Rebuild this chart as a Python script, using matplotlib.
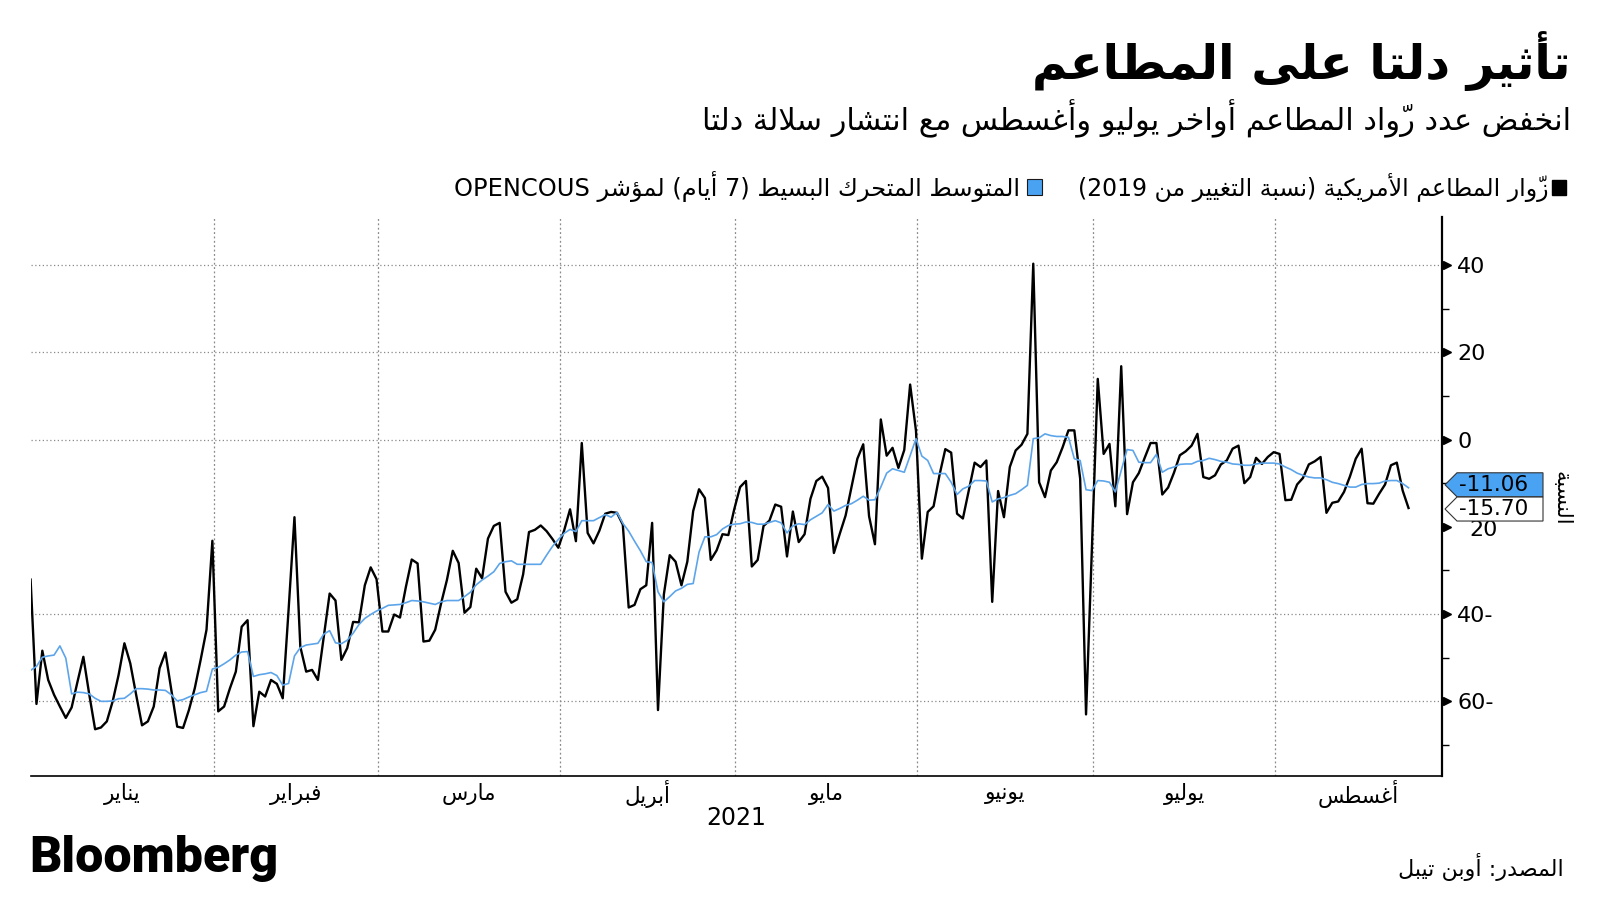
import matplotlib
matplotlib.use("Agg")
import matplotlib.pyplot as plt
import matplotlib.transforms as mtransforms
from matplotlib.patches import Polygon, Rectangle
import pandas as pd

# ---- texts ----
TITLE = "تأثير دلتا على المطاعم"
SUBTITLE = "انخفض عدد روّاد المطاعم أواخر يوليو وأغسطس مع انتشار سلالة دلتا"
LEGEND_DAILY = "زوّار المطاعم الأمريكية (نسبة التغيير من 2019)"
LEGEND_MA = "المتوسط المتحرك البسيط (7 أيام) لمؤشر OPENCOUS"
Y_LABEL = "النسبة"
SOURCE = "المصدر: أوبن تيبل"
YEAR = "2021"
MONTHS = ["يناير", "فبراير", "مارس", "أبريل", "مايو", "يونيو", "يوليو", "أغسطس"]
MONTH_STARTS = ["2021-01-01", "2021-02-01", "2021-03-01", "2021-04-01", "2021-05-01",
                "2021-06-01", "2021-07-01", "2021-08-01", "2021-09-01"]

# ---- data: daily from 2020-12-31, % change vs 2019 ----
START = "2020-12-31"
daily = [-32.1,
         -60.6, -48.4, -55.1, -58.5, -61.2, -63.8, -61.4, -55.5, -49.8, -58.4,
         -66.4, -66.0, -64.6, -60.0, -54.0, -46.7, -51.3, -58.5, -65.5, -64.6,
         -61.2, -52.4, -48.8, -57.4, -65.8, -66.1, -62.0, -57.0, -50.5, -43.6,
         -23.2, -62.3, -61.2, -57.0, -53.2, -42.9, -41.4, -65.7, -57.8, -58.9,
         -55.1, -56.0, -59.3, -39.0, -17.8, -47.5, -53.2, -52.8, -55.1, -45.2,
         -35.3, -36.9, -50.5, -47.8, -41.8, -41.9, -33.4, -29.3, -32.0, -44.0,
         -44.0, -40.1, -40.8, -33.8, -27.5, -28.4, -46.3, -46.1, -43.6, -37.6,
         -32.2, -25.5, -28.3, -39.7, -38.4, -29.6, -31.8, -22.7, -19.8, -19.1,
         -34.9, -37.4, -36.6, -30.9, -21.2, -20.7, -19.7, -21.0, -22.8, -24.8,
         -20.8, -16.0, -23.3, -0.8, -21.4, -23.8, -20.9, -17.0, -16.6, -16.8,
         -19.5, -38.5, -37.9, -34.3, -33.4, -19.1, -62.0, -35.5, -26.5, -28.0,
         -33.4, -28.0, -16.4, -11.4, -13.4, -27.6, -25.4, -21.7, -21.9, -16.0,
         -10.9, -9.5, -29.1, -27.6, -19.8, -18.6, -14.9, -15.4, -26.8, -16.5,
         -23.5, -21.7, -13.6, -9.5, -8.5, -11.1, -26.0, -21.6, -17.4, -10.9,
         -4.4, -1.1, -17.6, -24.0, 4.6, -3.7, -1.9, -6.5, -2.4, 12.6,
         2.0, -27.3, -16.6, -15.3, -8.2, -2.2, -3.0, -17.0, -18.1, -11.7,
         -5.3, -6.3, -4.8, -37.2, -11.8, -17.8, -6.3, -2.5, -1.2, 1.3,
         40.3, -9.8, -13.2, -7.1, -5.2, -1.8, 2.1, 2.1, -9.0, -63.0,
         -25.0, 13.9, -3.3, -1.0, -15.3, 16.8, -17.1, -9.8, -7.7, -4.2,
         -0.8, -0.8, -12.6, -11.0, -7.6, -3.6, -2.7, -1.4, 1.3, -8.6,
         -9.0, -8.2, -5.7, -4.8, -2.1, -1.4, -10.0, -8.6, -4.2, -5.6,
         -4.0, -2.9, -3.3, -13.9, -13.8, -10.3, -8.8, -5.7, -5.0, -4.0,
         -16.8, -14.5, -14.2, -12.0, -8.5, -4.4, -2.1, -14.6, -14.7, -12.4,
         -10.3, -5.9, -5.3, -11.7, -15.70]
ma7 = [-52.9,
       -52.0, -49.9, -49.6, -49.4, -47.3, -50.1, -58.3, -57.9, -58.0, -58.3,
       -59.3, -60.0, -60.0, -59.9, -59.4, -59.3, -58.3, -57.1, -57.1, -57.2,
       -57.4, -57.4, -57.5, -58.5, -59.9, -59.6, -59.0, -58.5, -58.0, -57.7,
       -52.6, -52.2, -51.4, -50.5, -49.4, -48.7, -48.6, -54.3, -53.9, -53.7,
       -53.4, -54.1, -56.3, -55.9, -49.6, -47.7, -47.1, -46.9, -46.7, -44.6,
       -43.8, -46.6, -46.8, -46.0, -44.4, -42.4, -41.0, -40.1, -39.3, -38.7,
       -38.0, -37.9, -37.8, -37.4, -36.9, -37.0, -37.2, -37.5, -37.8, -37.2,
       -36.9, -36.9, -36.9, -36.0, -35.0, -33.3, -32.2, -31.3, -30.3, -28.4,
       -28.0, -27.8, -28.6, -28.6, -28.6, -28.6, -28.6, -26.5, -24.5, -22.9,
       -21.5, -20.6, -21.1, -18.6, -18.6, -18.6, -17.9, -17.2, -17.8, -16.7,
       -19.2, -21.0, -23.3, -25.5, -28.0, -28.2, -34.9, -37.2, -36.0, -34.7,
       -34.1, -33.2, -33.0, -25.8, -22.3, -22.3, -21.8, -20.5, -19.7, -19.4,
       -19.3, -18.9, -19.0, -19.4, -19.4, -19.0, -18.6, -19.1, -21.4, -19.8,
       -19.3, -19.5, -18.4, -17.6, -16.8, -14.9, -16.4, -15.8, -15.1, -14.7,
       -13.9, -13.0, -13.9, -13.8, -10.9, -7.7, -6.7, -7.1, -7.5, -3.7,
       0.2, -3.8, -4.8, -7.8, -7.8, -7.8, -9.8, -12.6, -11.3, -10.7,
       -9.4, -9.4, -9.5, -14.3, -13.6, -13.3, -12.8, -12.4, -11.5, -10.5,
       0.2, 0.4, 1.3, 0.9, 0.7, 0.7, 0.5, -4.4, -4.8, -11.5,
       -11.7, -9.4, -9.5, -9.8, -12.0, -7.1, -2.3, -2.5, -5.2, -5.3,
       -5.3, -3.4, -7.5, -6.7, -6.3, -5.7, -5.6, -5.6, -5.0, -4.8,
       -4.3, -4.6, -5.0, -5.2, -5.6, -5.7, -5.9, -5.9, -5.6, -5.4,
       -5.4, -5.4, -5.6, -6.3, -6.9, -7.7, -8.2, -8.6, -8.8, -8.8,
       -9.2, -9.8, -10.1, -10.5, -10.9, -10.9, -10.3, -10.1, -10.1, -10.0,
       -9.5, -9.4, -9.4, -10.1, -11.06]

y_ticks = [40, 20, 0, -20, -40, -60]
y_tick_labels = ["40", "20", "0", "", "40-", "60-"]
y_minor = [30, 10, -10, -30, -50, -70]
y_grid = [40, 20, 0, -40, -60]

BLACK = "#000000"
BLUE_LINE = "#5da5ea"
BLUE_TAG = "#4aa2f2"
GRID = "#8a8a8a"

# ---- minimal Arabic shaping (matplotlib has no complex text layout) ----
FORMS = {
    "ء": (0xFE80,), "آ": (0xFE81, 0xFE82), "أ": (0xFE83, 0xFE84), "ؤ": (0xFE85, 0xFE86),
    "إ": (0xFE87, 0xFE88), "ئ": (0xFE89, 0xFE8A, 0xFE8B, 0xFE8C), "ا": (0xFE8D, 0xFE8E),
    "ب": (0xFE8F, 0xFE90, 0xFE91, 0xFE92), "ة": (0xFE93, 0xFE94),
    "ت": (0xFE95, 0xFE96, 0xFE97, 0xFE98), "ث": (0xFE99, 0xFE9A, 0xFE9B, 0xFE9C),
    "ج": (0xFE9D, 0xFE9E, 0xFE9F, 0xFEA0), "ح": (0xFEA1, 0xFEA2, 0xFEA3, 0xFEA4),
    "خ": (0xFEA5, 0xFEA6, 0xFEA7, 0xFEA8), "د": (0xFEA9, 0xFEAA), "ذ": (0xFEAB, 0xFEAC),
    "ر": (0xFEAD, 0xFEAE), "ز": (0xFEAF, 0xFEB0), "س": (0xFEB1, 0xFEB2, 0xFEB3, 0xFEB4),
    "ش": (0xFEB5, 0xFEB6, 0xFEB7, 0xFEB8), "ص": (0xFEB9, 0xFEBA, 0xFEBB, 0xFEBC),
    "ض": (0xFEBD, 0xFEBE, 0xFEBF, 0xFEC0), "ط": (0xFEC1, 0xFEC2, 0xFEC3, 0xFEC4),
    "ظ": (0xFEC5, 0xFEC6, 0xFEC7, 0xFEC8), "ع": (0xFEC9, 0xFECA, 0xFECB, 0xFECC),
    "غ": (0xFECD, 0xFECE, 0xFECF, 0xFED0), "ف": (0xFED1, 0xFED2, 0xFED3, 0xFED4),
    "ق": (0xFED5, 0xFED6, 0xFED7, 0xFED8), "ك": (0xFED9, 0xFEDA, 0xFEDB, 0xFEDC),
    "ل": (0xFEDD, 0xFEDE, 0xFEDF, 0xFEE0), "م": (0xFEE1, 0xFEE2, 0xFEE3, 0xFEE4),
    "ن": (0xFEE5, 0xFEE6, 0xFEE7, 0xFEE8), "ه": (0xFEE9, 0xFEEA, 0xFEEB, 0xFEEC),
    "و": (0xFEED, 0xFEEE), "ى": (0xFEEF, 0xFEF0), "ي": (0xFEF1, 0xFEF2, 0xFEF3, 0xFEF4),
}
LAM_ALEF = {"آ": (0xFEF5, 0xFEF6), "أ": (0xFEF7, 0xFEF8), "إ": (0xFEF9, 0xFEFA), "ا": (0xFEFB, 0xFEFC)}


def is_mark(c):
    return 0x064B <= ord(c) <= 0x065F or c == "\u0670"


def shape(text):
    n = len(text)

    def neighbour(i, step):
        j = i + step
        while 0 <= j < n and is_mark(text[j]):
            j += step
        return text[j] if 0 <= j < n else None

    out, i = [], 0
    while i < n:
        c = text[i]
        if c not in FORMS:
            out.append(c); i += 1; continue
        prev, nxt = neighbour(i, -1), neighbour(i, 1)
        joins_prev = prev in FORMS and len(FORMS[prev]) == 4
        if c == "ل" and nxt in LAM_ALEF:
            out.append(chr(LAM_ALEF[nxt][1 if joins_prev else 0])); i += 2; continue
        f = FORMS[c]
        if len(f) == 1:
            out.append(chr(f[0]))
        elif len(f) == 2:
            out.append(chr(f[1] if joins_prev else f[0]))
        else:
            joins_next = nxt in FORMS
            out.append(chr(f[{(False, False): 0, (True, False): 1, (False, True): 2, (True, True): 3}[(joins_prev, joins_next)]]))
        i += 1
    return "".join(out)


def ar(text):
    """shape + reorder for a right-to-left line, keeping latin/digit runs LTR"""
    runs = []
    for c in shape(text):
        if is_mark(c) and runs:
            runs[-1] += c
        elif c.isascii() and c.isalnum() and runs and runs[-1][-1].isascii() and runs[-1][-1].isalnum():
            runs[-1] += c
        else:
            runs.append(c)
    mirror = {"(": ")", ")": "("}
    return "".join(mirror.get(r, r) for r in reversed(runs))


# ---- figure ----
W, H = 1600, 900
plt.rcParams["font.family"] = ["DejaVu Sans"]
fig = plt.figure(figsize=(W / 100, H / 100), dpi=100)
L, R, T, B = 30.6, 1442, 217, 775.5
ax = fig.add_axes([L / W, 1 - B / H, (R - L) / W, (B - T) / H])

x = pd.date_range(START, periods=len(daily), freq="D") + pd.Timedelta(hours=19)
ax.plot(x, daily, color=BLACK, lw=1.7, zorder=3)
ax.plot(x, ma7, color=BLUE_LINE, lw=1.2, zorder=4)
xlim = (x[0], pd.Timestamp("2021-08-29 12:00"))
ax.set_xlim(*xlim)
ax.set_ylim(-77, 51)

for v in y_grid:
    ax.axhline(v, color=GRID, lw=0.9, ls=(0, (1, 2)), zorder=1)
starts = [pd.Timestamp(s) for s in MONTH_STARTS]
for s in starts[1:-1]:
    ax.axvline(s, color=GRID, lw=0.9, ls=(0, (1.5, 2)), zorder=1)

for side in ("left", "top"):
    ax.spines[side].set_visible(False)
ax.spines["right"].set_linewidth(1.6)
ax.spines["bottom"].set_linewidth(1.2)
ax.set_xticks([])
ax.yaxis.tick_right()
ax.set_yticks(y_ticks, y_tick_labels, fontsize=16)
ax.set_yticks(y_minor, minor=True)
ax.tick_params(axis="y", which="major", length=0, pad=11)
ax.tick_params(axis="y", which="minor", length=5, width=1, direction="out")
ax.plot([1.0035] * len(y_ticks), y_ticks, ls="none", marker=">", ms=6, color=BLACK,
        transform=ax.get_yaxis_transform(), clip_on=False)
# the -20 label sits mostly behind the value tags
ax.text(1.0, -20, "20", fontsize=16, va="center", ha="left", transform=ax.get_yaxis_transform()
        + mtransforms.ScaledTranslation(0.27, -0.03, fig.dpi_scale_trans))

# month labels centred on the visible part of each month
xy_blend = mtransforms.blended_transform_factory(ax.transData, fig.transFigure)
for name, a, b in zip(MONTHS, starts[:-1], starts[1:]):
    a, b = max(a, xlim[0]), min(b, xlim[1])
    ax.text(a + (b - a) / 2, 1 - 794 / H, ar(name), fontsize=15.5, ha="center", va="center",
            transform=xy_blend)
fig.text(((L + R) / 2) / W, 1 - 818 / H, YEAR, fontsize=17, ha="center", va="center")

# ---- header / footer ----
renderer = fig.canvas.get_renderer()


def fit(t, width_px):
    t.set_fontsize(t.get_fontsize() * width_px / t.get_window_extent(renderer).width)
    return t


fit(fig.text(1571 / W, 1 - 61 / H, ar(TITLE), fontsize=36, fontweight="bold", ha="right", va="center"), 540)
fit(fig.text(1571 / W, 1 - 119 / H, ar(SUBTITLE), fontsize=22, ha="right", va="center"), 867)
fit(fig.text(1549 / W, 1 - 187 / H, ar(LEGEND_DAILY), fontsize=15, ha="right", va="center"), 472)
fit(fig.text(1020 / W, 1 - 187 / H, ar(LEGEND_MA), fontsize=15, ha="right", va="center"), 568)
fig.add_artist(Rectangle((1552 / W, 1 - 195 / H), 14 / W, 15 / H, transform=fig.transFigure,
                         facecolor=BLACK, edgecolor=BLACK))
fig.add_artist(Rectangle((1027 / W, 1 - 195 / H), 15 / W, 16 / H, transform=fig.transFigure,
                         facecolor=BLUE_TAG, edgecolor="#1a1a1a", lw=0.8))
fig.text(1561 / W, 1 - 498 / H, ar(Y_LABEL), fontsize=15, rotation=270, ha="center", va="center")
fit(fig.text(1564 / W, 1 - 867 / H, ar(SOURCE), fontsize=15, ha="right", va="center"), 166)
fit(fig.text(29 / W, 1 - 859 / H, "Bloomberg", fontsize=30, fontweight="heavy", ha="left", va="center",
             family=["Roboto", "DejaVu Sans"]), 249)


# ---- last-value tags on the right axis ----
def value_tag(value, face, z, nudge=0):
    yp = ax.transData.transform((0, value))[1] + nudge
    x0, h, x1 = R + 3, 12, 1543
    pts = [(x0, yp), (x0 + 12, yp + h), (x1, yp + h), (x1, yp - h), (x0 + 12, yp - h)]
    fig.add_artist(Polygon([(px / W, py / H) for px, py in pts], closed=True, transform=fig.transFigure,
                           facecolor=face, edgecolor="#333333", lw=0.8, zorder=z))
    fig.text((x0 + 14) / W, yp / H, f"{value:.2f}", fontsize=15.5, ha="left", va="center", zorder=z + 1)


value_tag(ma7[-1], BLUE_TAG, 5, nudge=3)
value_tag(daily[-1], "white", 7, nudge=-1)

fig.savefig("out.png", dpi=100)
